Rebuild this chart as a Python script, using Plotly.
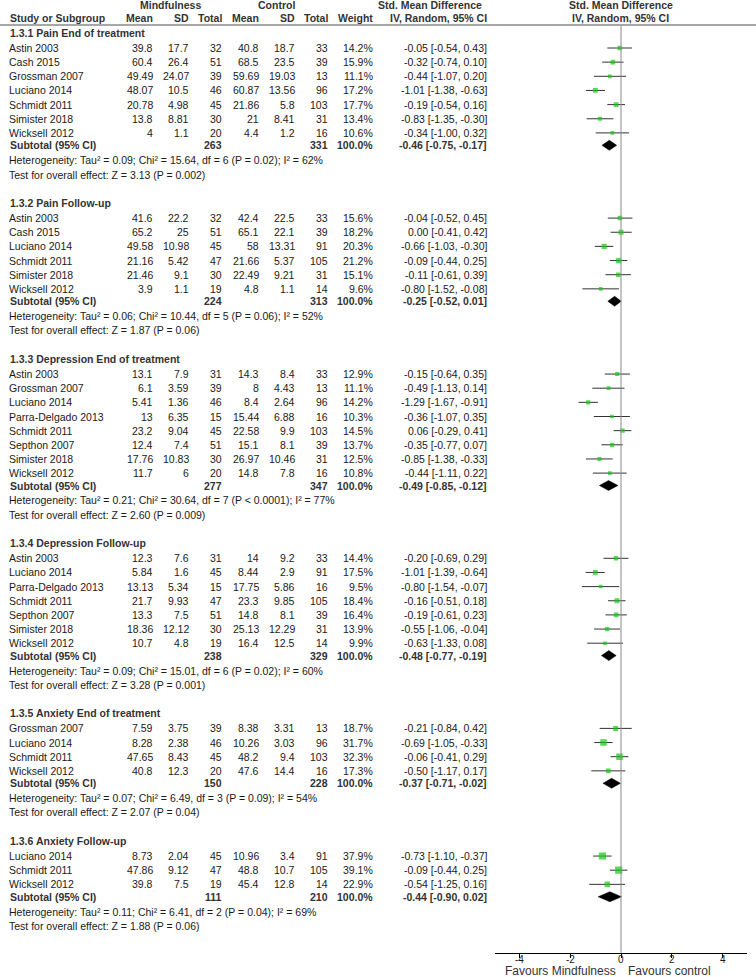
import plotly.graph_objects as go

# Taille de la page (pixels)
W, H = 756, 977
FONT = "Liberation Sans, Arial, sans-serif"

SECTIONS = [
    "1.3.1 Pain End of treatment",
    "1.3.2 Pain Follow-up",
    "1.3.3 Depression End of treatment",
    "1.3.4 Depression Follow-up",
    "1.3.5 Anxiety End of treatment",
    "1.3.6 Anxiety Follow-up",
]

# Études (ordre d'affichage) et sous-groupe associé
SECTION_OF = [0] * 7 + [1] * 6 + [2] * 8 + [3] * 7 + [4] * 4 + [5] * 3
STUDIES = [
    "Astin 2003", "Cash 2015", "Grossman 2007", "Luciano 2014", "Schmidt 2011", "Simister 2018", "Wicksell 2012",
    "Astin 2003", "Cash 2015", "Luciano 2014", "Schmidt 2011", "Simister 2018", "Wicksell 2012",
    "Astin 2003", "Grossman 2007", "Luciano 2014", "Parra-Delgado 2013", "Schmidt 2011", "Septhon 2007",
    "Simister 2018", "Wicksell 2012",
    "Astin 2003", "Luciano 2014", "Parra-Delgado 2013", "Schmidt 2011", "Septhon 2007", "Simister 2018",
    "Wicksell 2012",
    "Grossman 2007", "Luciano 2014", "Schmidt 2011", "Wicksell 2012",
    "Luciano 2014", "Schmidt 2011", "Wicksell 2012",
]
MEAN_M = [39.8, 60.4, 49.49, 48.07, 20.78, 13.8, 4,
          41.6, 65.2, 49.58, 21.16, 21.46, 3.9,
          13.1, 6.1, 5.41, 13, 23.2, 12.4, 17.76, 11.7,
          12.3, 5.84, 13.13, 21.7, 13.3, 18.36, 10.7,
          7.59, 8.28, 47.65, 40.8,
          8.73, 47.86, 39.8]
SD_M = [17.7, 26.4, 24.07, 10.5, 4.98, 8.81, 1.1,
        22.2, 25, 10.98, 5.42, 9.1, 1.1,
        7.9, 3.59, 1.36, 6.35, 9.04, 7.4, 10.83, 6,
        7.6, 1.6, 5.34, 9.93, 7.5, 12.12, 4.8,
        3.75, 2.38, 8.43, 12.3,
        2.04, 9.12, 7.5]
N_M = [32, 51, 39, 46, 45, 30, 20,
       32, 51, 45, 47, 30, 19,
       31, 39, 46, 15, 45, 51, 30, 20,
       31, 45, 15, 47, 51, 30, 19,
       39, 46, 45, 20,
       45, 47, 19]
MEAN_C = [40.8, 68.5, 59.69, 60.87, 21.86, 21, 4.4,
          42.4, 65.1, 58, 21.66, 22.49, 4.8,
          14.3, 8, 8.4, 15.44, 22.58, 15.1, 26.97, 14.8,
          14, 8.44, 17.75, 23.3, 14.8, 25.13, 16.4,
          8.38, 10.26, 48.2, 47.6,
          10.96, 48.8, 45.4]
SD_C = [18.7, 23.5, 19.03, 13.56, 5.8, 8.41, 1.2,
        22.5, 22.1, 13.31, 5.37, 9.21, 1.1,
        8.4, 4.43, 2.64, 6.88, 9.9, 8.1, 10.46, 7.8,
        9.2, 2.9, 5.86, 9.85, 8.1, 12.29, 12.5,
        3.31, 3.03, 9.4, 14.4,
        3.4, 10.7, 12.8]
N_C = [33, 39, 13, 96, 103, 31, 16,
       33, 39, 91, 105, 31, 14,
       33, 13, 96, 16, 103, 39, 31, 16,
       33, 91, 16, 105, 39, 31, 14,
       13, 96, 103, 16,
       91, 105, 14]
WEIGHT = [14.2, 15.9, 11.1, 17.2, 17.7, 13.4, 10.6,
          15.6, 18.2, 20.3, 21.2, 15.1, 9.6,
          12.9, 11.1, 14.2, 10.3, 14.5, 13.7, 12.5, 10.8,
          14.4, 17.5, 9.5, 18.4, 16.4, 13.9, 9.9,
          18.7, 31.7, 32.3, 17.3,
          37.9, 39.1, 22.9]
SMD = [-0.05, -0.32, -0.44, -1.01, -0.19, -0.83, -0.34,
       -0.04, 0.00, -0.66, -0.09, -0.11, -0.80,
       -0.15, -0.49, -1.29, -0.36, 0.06, -0.35, -0.85, -0.44,
       -0.20, -1.01, -0.80, -0.16, -0.19, -0.55, -0.63,
       -0.21, -0.69, -0.06, -0.50,
       -0.73, -0.09, -0.54]
CI_LO = [-0.54, -0.74, -1.07, -1.38, -0.54, -1.35, -1.00,
         -0.52, -0.41, -1.03, -0.44, -0.61, -1.52,
         -0.64, -1.13, -1.67, -1.07, -0.29, -0.77, -1.38, -1.11,
         -0.69, -1.39, -1.54, -0.51, -0.61, -1.06, -1.33,
         -0.84, -1.05, -0.41, -1.17,
         -1.10, -0.44, -1.25]
CI_HI = [0.43, 0.10, 0.20, -0.63, 0.16, -0.30, 0.32,
         0.45, 0.42, -0.30, 0.25, 0.39, -0.08,
         0.35, 0.14, -0.91, 0.35, 0.41, 0.07, -0.33, 0.22,
         0.29, -0.64, -0.07, 0.18, 0.23, -0.04, 0.08,
         0.42, -0.33, 0.29, 0.17,
         -0.37, 0.25, 0.16]

# Sous-totaux par sous-groupe
SUB_N_M = [263, 224, 277, 238, 150, 111]
SUB_N_C = [331, 313, 347, 329, 228, 210]
SUB_SMD = [-0.46, -0.25, -0.49, -0.48, -0.37, -0.44]
SUB_LO = [-0.75, -0.52, -0.85, -0.77, -0.71, -0.90]
SUB_HI = [-0.17, 0.01, -0.12, -0.19, -0.02, 0.02]
HETEROGENEITY = [
    "Tau² = 0.09; Chi² = 15.64, df = 6 (P = 0.02); I² = 62%",
    "Tau² = 0.06; Chi² = 10.44, df = 5 (P = 0.06); I² = 52%",
    "Tau² = 0.21; Chi² = 30.64, df = 7 (P < 0.0001); I² = 77%",
    "Tau² = 0.09; Chi² = 15.01, df = 6 (P = 0.02); I² = 60%",
    "Tau² = 0.07; Chi² = 6.49, df = 3 (P = 0.09); I² = 54%",
    "Tau² = 0.11; Chi² = 6.41, df = 2 (P = 0.04); I² = 69%",
]
OVERALL_Z = ["3.13 (P = 0.002)", "1.87 (P = 0.06)", "2.60 (P = 0.009)",
             "3.28 (P = 0.001)", "2.07 (P = 0.04)", "1.88 (P = 0.06)"]

AXIS_TICKS = [-4, -2, 0, 2, 4]

# Géométrie (pixels de la page)
PITCH = 14.15
X_RANGE = [-4.95, 4.95]
X_LEFT, X_RIGHT = 495.3, 746.7
AXIS_Y = 952.7
TEXT = "#1a1a1a"
HEAD = "#333333"

# Positions verticales des lignes
section_y, study_y, sub_y, het_y, test_y = [], [], [], [], []
y = 32.7
for s in range(len(SECTIONS)):
    section_y.append(y)
    y += 15.3
    for k in SECTION_OF:
        if k == s:
            study_y.append(y)
            y += PITCH
    y = y - PITCH + 12.4
    sub_y.append(y)
    y += 14.9
    het_y.append(y)
    y += 14.3
    test_y.append(y)
    y += 28.3

annotations = []


def txt(x, y, s, anchor="left", bold=False, size=10.5, color=TEXT, xref="paper"):
    if bold:
        s = f"<b>{s}</b>"
    annotations.append(dict(
        x=x / W if xref == "paper" else x, y=y, xref=xref, yref="y", text=s, showarrow=False,
        xanchor=anchor, yanchor="middle", borderpad=0, borderwidth=0,
        font=dict(family=FONT, size=size, color=color),
    ))


def num(v):
    return f"{v:g}"


# En-têtes
txt(170, 4.5, "Mindfulness", "center", bold=True, color=HEAD)
txt(276.7, 4.5, "Control", "center", bold=True, color=HEAD)
txt(430.2, 4.5, "Std. Mean Difference", "center", bold=True, color=HEAD)
txt(620.5, 4.5, "Std. Mean Difference", "center", bold=True, color=HEAD)
txt(10, 18.3, "Study or Subgroup", bold=True, color=HEAD)
for xr, lab in [(152.7, "Mean"), (189.3, "SD"), (222.3, "Total"), (259, "Mean"),
                (295, "SD"), (328.3, "Total"), (372.7, "Weight"), (486.7, "IV, Random, 95% CI")]:
    txt(xr, 18.3, lab, "right", bold=True, color=HEAD)
txt(620.5, 18.3, "IV, Random, 95% CI", "center", bold=True, color=HEAD)

COL_X = [152.7, 189.3, 222.3, 259, 295, 328.3]

for s, name in enumerate(SECTIONS):
    txt(10, section_y[s], name, bold=True, color=HEAD)
    txt(10, sub_y[s], "Subtotal (95% CI)", bold=True, color=HEAD)
    txt(222.3, sub_y[s], str(SUB_N_M[s]), "right", bold=True, color=HEAD)
    txt(328.3, sub_y[s], str(SUB_N_C[s]), "right", bold=True, color=HEAD)
    txt(372.7, sub_y[s], "100.0%", "right", bold=True, color=HEAD)
    txt(486.7, sub_y[s], f"{SUB_SMD[s]:.2f} [{SUB_LO[s]:.2f}, {SUB_HI[s]:.2f}]", "right", bold=True, color=HEAD)
    txt(9.3, het_y[s], "Heterogeneity: " + HETEROGENEITY[s])
    txt(9.3, test_y[s], "Test for overall effect: Z = " + OVERALL_Z[s])

for i, name in enumerate(STUDIES):
    yy = study_y[i]
    txt(9, yy, name)
    vals = [num(MEAN_M[i]), num(SD_M[i]), str(N_M[i]), num(MEAN_C[i]), num(SD_C[i]), str(N_C[i])]
    for xr, v in zip(COL_X, vals):
        txt(xr, yy, v, "right")
    txt(372.7, yy, f"{WEIGHT[i]:.1f}%", "right")
    txt(486.7, yy, f"{SMD[i]:.2f} [{CI_LO[i]:.2f}, {CI_HI[i]:.2f}]", "right")

# Libellés des graduations, placés juste sous l'axe
for t in AXIS_TICKS:
    txt(t, 959.6, str(t), "center", size=10, xref="x")

txt(615.7, 970.6, "Favours Mindfulness", "right", size=12, color="#333")
txt(628.3, 970.6, "Favours control", "left", size=12, color="#333")

fig = go.Figure()

# Intervalles de confiance des études
ci_x, ci_y = [], []
for lo, hi, yy in zip(CI_LO, CI_HI, study_y):
    ci_x += [lo, hi, None]
    ci_y += [yy, yy, None]
fig.add_trace(go.Scatter(
    x=ci_x, y=ci_y, mode="lines",
    line=dict(color="#333333", width=1),
    hoverinfo="skip", showlegend=False,
))

# Carrés proportionnels au poids
fig.add_trace(go.Scatter(
    x=SMD, y=study_y, mode="markers",
    marker=dict(symbol="square", color="#12c812",
                size=[1.15 * w ** 0.5 for w in WEIGHT], line=dict(width=0)),
    showlegend=False,
))

# Losanges des sous-totaux
dx, dy = [], []
for est, lo, hi, yy in zip(SUB_SMD, SUB_LO, SUB_HI, sub_y):
    dx += [lo, est, hi, est, lo, None]
    dy += [yy, yy - 5, yy, yy + 5, yy, None]
fig.add_trace(go.Scatter(
    x=dx, y=dy, mode="lines", fill="toself", fillcolor="black",
    line=dict(color="black", width=0.5), showlegend=False,
))

# Ligne de séparation d'en-tête et ligne verticale du zéro
fig.add_shape(type="line", xref="paper", yref="y", x0=0, x1=1, y0=25, y1=25,
              line=dict(color="#8a8a8a", width=1.5))
fig.add_shape(type="line", xref="x", yref="y", x0=0, x1=0, y0=26, y1=AXIS_Y,
              line=dict(color="#8a8a8a", width=1))

fig.update_layout(
    width=W, height=H,
    margin=dict(l=0, r=0, t=0, b=0),
    paper_bgcolor="white", plot_bgcolor="white",
    annotations=annotations,
    showlegend=False,
)
fig.update_xaxes(
    range=X_RANGE, domain=[X_LEFT / W, X_RIGHT / W],
    anchor="free", position=(H - AXIS_Y) / H,
    showgrid=False, zeroline=False,
    showline=True, linecolor="black", linewidth=1,
    ticks="outside", ticklen=4, tickcolor="black",
    tickvals=AXIS_TICKS, showticklabels=False,
)
fig.update_yaxes(range=[H, 0], domain=[0, 1], visible=False)

# La page ne doit pas décaler la figure (marge par défaut du body)
fig.write_html(
    "out.html",
    config={"displayModeBar": False},
    post_script="document.body.style.margin='0';document.body.style.overflow='hidden';",
)
